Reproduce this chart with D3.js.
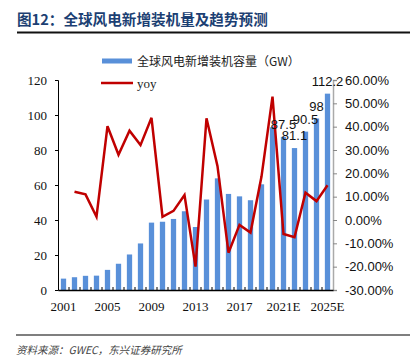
<!DOCTYPE html>
<html><head><meta charset="utf-8">
<script src="https://cdn.jsdelivr.net/npm/d3@7"></script>
<style>body{margin:0;background:#fff}svg{display:block}</style>
</head><body>
<svg id="c" width="410" height="357"></svg>
<script>
const years = ["2001","2002","2003","2004","2005","2006","2007","2008","2009","2010","2011","2012","2013","2014","2015","2016","2017","2018","2019","2020","2021E","2022E","2023E","2024E","2025E"];
const capacity = [6.5,7.3,8.1,8.2,11.5,15.0,20.3,26.6,38.5,39.0,40.6,45.0,36.0,51.7,63.8,54.9,53.5,51.3,60.4,93.0,87.5,81.1,90.5,98.0,112.2];
const yoy = [null,12.1,11.0,1.4,40.2,28.0,38.3,32.1,43.8,1.4,3.9,10.7,-20.0,43.6,23.1,-14.0,-2.1,-5.4,18.6,52.9,-6.0,-7.4,11.7,8.1,14.9];
const labeledYears = ["2021E","2022E","2023E","2024E","2025E"];
const xTickLabels = ["2001","2005","2009","2013","2017","2021E","2025E"];
const leftTicks = [0,20,40,60,80,100,120];
const rightTicks = [-30,-20,-10,0,10,20,30,40,50,60];

const svg = d3.select("#c");
const L=58,R=333,T=80,B=290;
const x = d3.scaleBand().domain(years).range([L,R]).paddingInner(0.52).paddingOuter(0.26);
const xb = d3.scaleBand().domain(years).range([L,R]);
const y = d3.scaleLinear().domain([0,120]).range([B,T]);
const y2 = d3.scaleLinear().domain([-30,60]).range([B,T]);

// title
svg.append("text").attr("x",17).attr("y",25).attr("fill","#1c3f73")
  .attr("font-family","'Noto Sans CJK SC',sans-serif").attr("font-weight","bold").attr("font-size",14.6)
  .text("图12：全球风电新增装机量及趋势预测");
svg.append("line").attr("x1",17).attr("x2",410).attr("y1",32.5).attr("y2",32.5).attr("stroke","#111").attr("stroke-width",2);

// bars
svg.append("g").selectAll("rect").data(years).join("rect")
  .attr("x",d=>x(d)).attr("width",x.bandwidth())
  .attr("y",(d,i)=>y(capacity[i])).attr("height",(d,i)=>B-y(capacity[i]))
  .attr("fill","#5990d9");

// line
const line = d3.line().defined(d=>d[1]!==null).x(d=>xb(d[0])+xb.bandwidth()/2).y(d=>y2(d[1]));
svg.append("path").datum(years.map((d,i)=>[d,yoy[i]])).attr("d",line)
  .attr("fill","none").attr("stroke","#c00000").attr("stroke-width",2.5).attr("stroke-linejoin","miter");

// left axis
const la = svg.append("g").attr("transform",`translate(${L},0)`)
  .call(d3.axisLeft(y).tickValues(leftTicks).tickSize(3).tickPadding(8));
la.select(".domain").attr("stroke","#000");
la.selectAll("line").attr("stroke","#000");
la.selectAll("text").attr("font-family","'Liberation Serif',serif").attr("font-size",13).attr("fill","#111");

// right axis
const ra = svg.append("g").attr("transform",`translate(${R},0)`)
  .call(d3.axisRight(y2).tickValues(rightTicks).tickSize(4).tickPadding(8).tickFormat(d=>d.toFixed(2)+"%"));
ra.select(".domain").attr("stroke","#aaa").attr("stroke-width",1.5);
ra.selectAll("line").attr("stroke","#888");
ra.selectAll("text").attr("font-family","'Liberation Sans',Arial,sans-serif").attr("font-size",13).attr("fill","#111");

// bottom axis
const ba = svg.append("g").attr("transform",`translate(0,${B})`)
  .call(d3.axisBottom(xb).tickValues(xTickLabels).tickSize(0).tickPadding(12));
ba.select(".domain").attr("stroke","#000").attr("stroke-width",1.5);
ba.selectAll("text").attr("font-family","'Liberation Serif',serif").attr("font-size",13).attr("fill","#111");
// band boundary ticks (inside)
svg.append("g").selectAll("line").data(years.slice(1)).join("line")
  .attr("x1",d=>xb(d)).attr("x2",d=>xb(d)).attr("y1",B).attr("y2",B-3).attr("stroke","#000");

// data labels
svg.append("g").selectAll("text").data(labeledYears).join("text")
  .attr("x",d=>x(d)+x.bandwidth()/2).attr("y",d=>y(capacity[years.indexOf(d)])-8)
  .attr("text-anchor","middle").attr("font-family","'Liberation Sans',Arial,sans-serif").attr("font-size",13).attr("fill","#111")
  .text(d=>capacity[years.indexOf(d)]);

// legend
svg.append("rect").attr("x",102).attr("y",58.5).attr("width",30).attr("height",5).attr("fill","#5990d9");
svg.append("text").attr("x",137).attr("y",65.5).attr("font-family","'Noto Sans CJK SC',serif").attr("font-size",12).attr("fill","#222")
  .text("全球风电新增装机容量（GW）");
svg.append("line").attr("x1",101).attr("x2",133).attr("y1",83).attr("y2",83).attr("stroke","#c00000").attr("stroke-width",2.5);
svg.append("text").attr("x",137).attr("y",88).attr("font-family","'Liberation Serif',serif").attr("font-size",13).attr("fill","#222").text("yoy");

// footer
svg.append("line").attr("x1",16).attr("x2",410).attr("y1",335).attr("y2",335).attr("stroke","#555").attr("stroke-width",1.5);
svg.append("text").attr("x",16).attr("y",354).attr("font-family","'Noto Sans CJK SC',sans-serif").attr("font-style","italic").attr("font-size",10.5).attr("fill","#444")
  .text("资料来源：GWEC，东兴证券研究所");
</script>
</body></html>
